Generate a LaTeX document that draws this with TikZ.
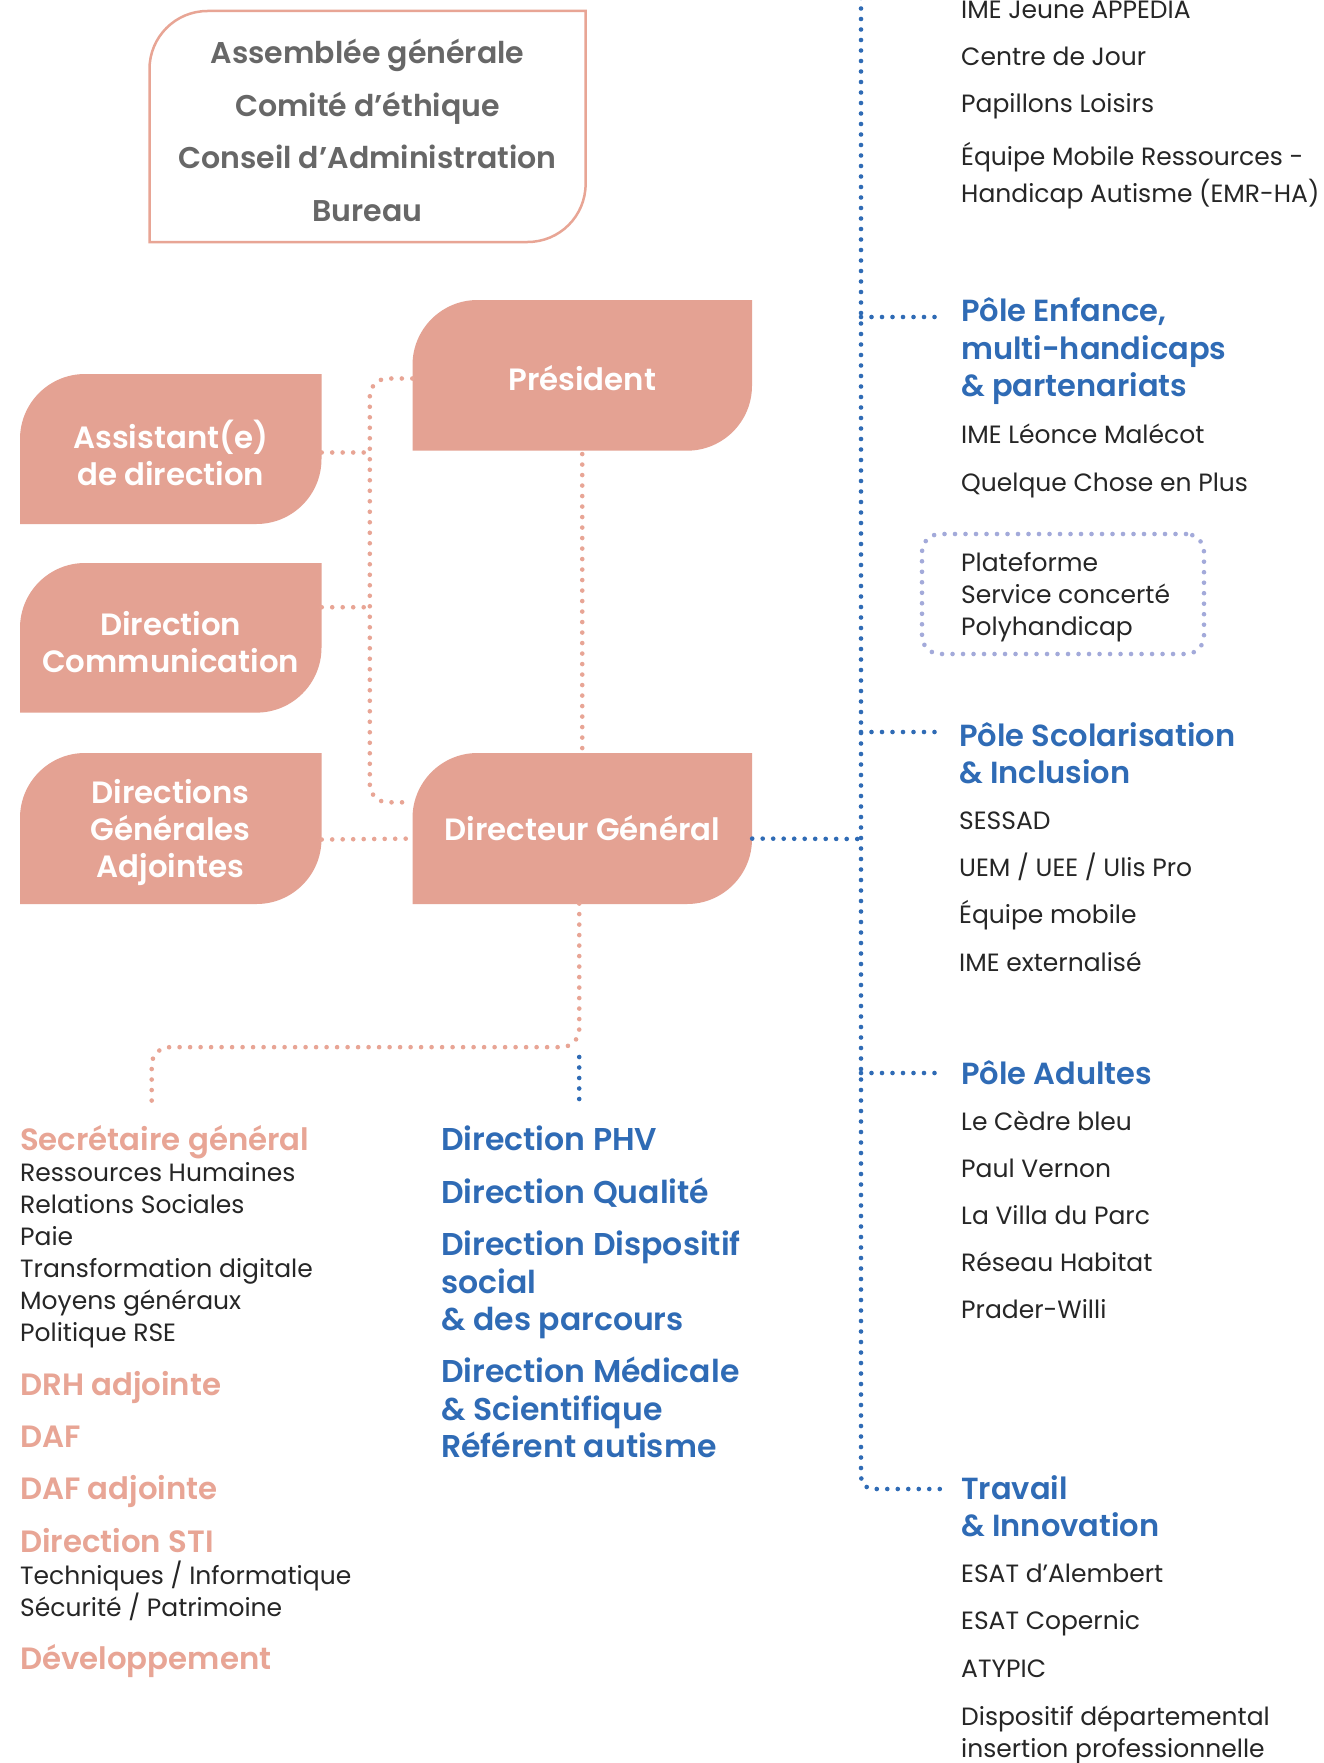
\documentclass[tikz,border=0pt]{standalone}
\usepackage{fontspec}
\setmainfont{Poppins}[BoldFont={Poppins SemiBold}]
\usetikzlibrary{calc}
\definecolor{salmon}{HTML}{E4A293}
\definecolor{salmontext}{HTML}{E8A595}
\definecolor{bluec}{HTML}{2F6BB5}
\definecolor{inkc}{HTML}{262626}
\definecolor{grayc}{HTML}{676767}
\definecolor{peri}{HTML}{A3AADA}
% #1 options, #2 L, #3 T, #4 R, #5 B, #6 radius
\newcommand\orgshape[6]{%
  \path[#1] (#2,#5) -- (#2,{#3+#6}) .. controls (#2,{#3+0.4477*#6}) and ({#2+0.4477*#6},#3) .. ({#2+#6},#3)
  -- (#4,#3) -- (#4,{#5-#6}) .. controls (#4,{#5-0.4477*#6}) and ({#4-0.4477*#6},#5) .. ({#4-#6},#5) -- cycle;}
\tikzset{
  salmondot/.style={draw=salmontext, line width=4.6pt, line cap=round, dash pattern=on 0pt off 10.5pt, rounded corners=18pt},
  bluedot/.style={draw=bluec, line width=4.6pt, line cap=round, dash pattern=on 0pt off 10.5pt, rounded corners=12pt},
  boxlbl/.style={text=white, font=\fontsize{30.8}{37}\selectfont\bfseries, align=center, inner sep=0pt,
    minimum width=339.5pt, minimum height=150.7pt},
  sidebox/.style={boxlbl, minimum width=301.5pt},
  toplbl/.style={anchor=base, inner sep=0pt, text=grayc, font=\fontsize{30}{34}\selectfont\bfseries},
  rtxt/.style={anchor=base west, inner sep=0pt, text=inkc, font=\fontsize{25}{29}\selectfont},
  rhead/.style={anchor=base west, inner sep=0pt, text=bluec, font=\fontsize{30.5}{34}\selectfont\bfseries},
  ltxt/.style={anchor=base west, inner sep=0pt, text=inkc, font=\fontsize{25}{29}\selectfont},
  lhead/.style={anchor=base west, inner sep=0pt, text=salmontext, font=\fontsize{30.8}{36}\selectfont\bfseries},
  mhead/.style={anchor=base west, inner sep=0pt, text=bluec, font=\fontsize{31.5}{36}\selectfont\bfseries},
  platbox/.style={draw=peri, line width=4.6pt, line cap=round, dash pattern=on 0pt off 10.5pt, rounded corners=18pt,
    minimum width=282pt, minimum height=120pt, inner sep=0pt}
}
\begin{document}
\begin{tikzpicture}[x=1pt,y=-1pt]
\useasboundingbox (0,0) rectangle (1323,1763);
\fill[white] (0,0) rectangle (1323,1763);

% top governance box
\orgshape{draw=salmontext, line width=2.5pt}{149.5}{11}{585.6}{242}{58}
\node[inner sep=0pt, minimum width=436pt, minimum height=231pt] (gov) at (367.5,126.5) {};
\node[toplbl] (g1) at (367.5,63.5) {Assemblée générale};
\node[toplbl] (g2) at (367.5,116.5) {Comité d’éthique};
\node[toplbl] (g3) at (367.5,169) {Conseil d’Administration};
\node[toplbl] (g4) at (367.5,221) {Bureau};

% salmon boxes
\orgshape{fill=salmon}{412.5}{300}{752}{450.7}{65}
\orgshape{fill=salmon}{412.5}{753}{752}{904}{65}
\orgshape{fill=salmon}{20}{374}{321.5}{524}{65}
\orgshape{fill=salmon}{20}{563}{321.5}{712.6}{65}
\orgshape{fill=salmon}{20}{753}{321.5}{904}{65}
\node[boxlbl] (pres) at (582.25,378.5) {Président};
\node[boxlbl] (dg) at (582.25,828) {Directeur Général};
\node[sidebox] (asst) at (170.75,452.5) {Assistant(e)\\de direction};
\node[sidebox] (dcom) at (170.75,642) {Direction\\Communication};
\node[sidebox] (dga) at (170.75,832) {Directions\\Générales\\Adjointes};

% salmon connectors
\draw[salmondot] (pres.west) -- ++(-42.5,0) |- ($(dg.north west)!0.33!(dg.south west)$);
\draw[salmondot] (asst.east) -- ++(48.5,0);
\draw[salmondot] ($(dcom.north east)!0.27!(dcom.south east)$) -- ++(48.5,0);
\draw[salmondot] ($(dga.north east)!0.55!(dga.south east)$) -- ($(dg.north west)!0.57!(dg.south west)$);
\draw[salmondot] (pres.south) -- (dg.north);
\coordinate (sgtop) at (151.7,1104);
\draw[salmondot] ($(dg.south)+(-3,0)$) -- ++(0,143.6) -| (sgtop);

% blue connectors
\coordinate (phvA) at (579.2,1057);
\coordinate (phvB) at (579.2,1104);
\draw[bluedot] (phvA) -- (phvB);
\coordinate (spj) at (861,839);
\draw[bluedot] ($(dg.north east)!0.57!(dg.south east)$) -- (spj);
\coordinate (spTop) at (861,-2);
\coordinate (spBot) at (861,1489);
\coordinate (eTrav) at (940,1489);
\draw[bluedot] (spTop) -- (spBot) -- (eTrav);
\coordinate (sEnf) at (861,317);  \coordinate (eEnf) at (940,317);
\coordinate (sSco) at (861,732);  \coordinate (eSco) at (940,732);
\coordinate (sAdu) at (861,1073); \coordinate (eAdu) at (940,1073);
\draw[bluedot] (sEnf) -- (eEnf);
\draw[bluedot] (sSco) -- (eSco);
\draw[bluedot] (sAdu) -- (eAdu);

% plateforme box
\node[platbox] (plat) at (1063,594) {};

% right column
\node[rtxt] (r01) at (961,19) {IME Jeune APPEDIA};
\node[rtxt] (r02) at (961,66) {Centre de Jour};
\node[rtxt] (r03) at (961,112.5) {Papillons Loisirs};
\node[rtxt] (r04) at (961,166) {Équipe Mobile Ressources -};
\node[rtxt] (r05) at (961,203) {Handicap Autisme (EMR-HA)};
\node[rhead] (h1a) at (961,321) {Pôle Enfance,};
\node[rhead] (h1b) at (961,359) {multi-handicaps};
\node[rhead] (h1c) at (961,396) {\& partenariats};
\node[rtxt] (r06) at (961,443) {IME Léonce Malécot};
\node[rtxt] (r07) at (961,491) {Quelque Chose en Plus};
\node[rtxt] (p1) at (961,571) {Plateforme};
\node[rtxt] (p2) at (961,603) {Service concerté};
\node[rtxt] (p3) at (961,635) {Polyhandicap};
\node[rhead] (h2a) at (959,746) {Pôle Scolarisation};
\node[rhead] (h2b) at (959,783) {\& Inclusion};
\node[rtxt] (r08) at (959,829) {SESSAD};
\node[rtxt] (r09) at (959,876) {UEM / UEE / Ulis Pro};
\node[rtxt] (r10) at (959,923) {Équipe mobile};
\node[rtxt] (r11) at (959,971) {IME externalisé};
\node[rhead] (h3) at (961,1084) {Pôle Adultes};
\node[rtxt] (r12) at (961,1130) {Le Cèdre bleu};
\node[rtxt] (r13) at (961,1177) {Paul Vernon};
\node[rtxt] (r14) at (961,1224) {La Villa du Parc};
\node[rtxt] (r15) at (961,1271) {Réseau Habitat};
\node[rtxt] (r16) at (961,1318) {Prader-Willi};
\node[rhead] (h4a) at (961,1499) {Travail};
\node[rhead] (h4b) at (961,1536) {\& Innovation};
\node[rtxt] (r17) at (961,1582) {ESAT d’Alembert};
\node[rtxt] (r18) at (961,1629) {ESAT Copernic};
\node[rtxt] (r19) at (961,1677) {ATYPIC};
\node[rtxt] (r20) at (961,1725) {Dispositif départemental};
\node[rtxt] (r21) at (961,1757) {insertion professionnelle};

% left column
\node[lhead] (l0) at (20,1150) {Secrétaire général};
\node[ltxt] (l1) at (20,1181) {Ressources Humaines};
\node[ltxt] (l2) at (20,1213) {Relations Sociales};
\node[ltxt] (l3) at (20,1245) {Paie};
\node[ltxt] (l4) at (20,1277) {Transformation digitale};
\node[ltxt] (l5) at (20,1309) {Moyens généraux};
\node[ltxt] (l6) at (20,1341) {Politique RSE};
\node[lhead] (l7) at (20,1395) {DRH adjointe};
\node[lhead] (l8) at (20,1447) {DAF};
\node[lhead] (l9) at (20,1499) {DAF adjointe};
\node[lhead] (l10) at (20,1552) {Direction STI};
\node[ltxt] (l11) at (20,1584) {Techniques / Informatique};
\node[ltxt] (l12) at (20,1616) {Sécurité / Patrimoine};
\node[lhead] (l13) at (20,1669) {Développement};

% middle column
\node[mhead] (m1) at (441,1150) {Direction PHV};
\node[mhead] (m2) at (441,1203) {Direction Qualité};
\node[mhead] (m3) at (441,1255) {Direction Dispositif};
\node[mhead] (m4) at (441,1293) {social};
\node[mhead] (m5) at (441,1330) {\& des parcours};
\node[mhead] (m6) at (441,1382) {Direction Médicale};
\node[mhead] (m7) at (441,1420) {\& Scientifique};
\node[mhead] (m8) at (441,1457) {Référent autisme};
\end{tikzpicture}
\end{document}
